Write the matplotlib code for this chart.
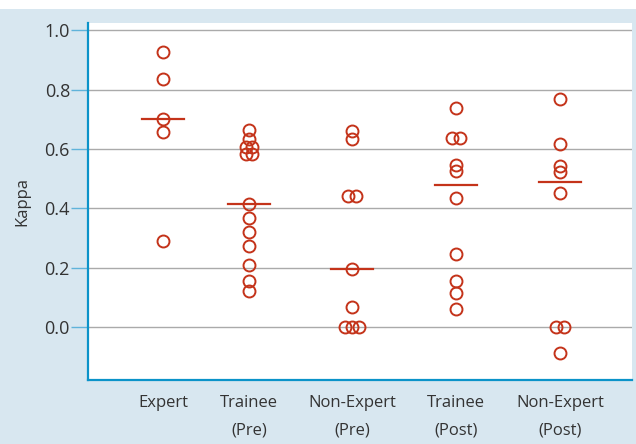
import matplotlib.pyplot as plt
from matplotlib.patches import Rectangle

plt.rcParams['font.family'] = ['Open Sans', 'DejaVu Sans']

# categories and their centre positions on the x axis
categories = ["Expert", "Trainee\n(Pre)", "Non-Expert\n(Pre)", "Trainee\n(Post)", "Non-Expert\n(Post)"]
positions = [0.75, 1.61, 2.64, 3.68, 4.72]

# kappa values
expert = [0.926, 0.835, 0.70, 0.657, 0.29]
trainee_pre = [0.663, 0.632, 0.605, 0.605, 0.582, 0.582, 0.414,
               0.367, 0.321, 0.272, 0.209, 0.156, 0.121]
nonexpert_pre = [0.66, 0.633, 0.441, 0.441, 0.196, 0.067, 0.0, 0.0, 0.0]
trainee_post = [0.737, 0.637, 0.637, 0.545, 0.526, 0.435,
                0.247, 0.155, 0.114, 0.061]
nonexpert_post = [0.769, 0.616, 0.543, 0.522, 0.452, 0.0, 0.0, -0.086]

# medians drawn as short horizontal bars
medians = [0.70, 0.414, 0.196, 0.48, 0.487]

groups = [expert, trainee_pre, nonexpert_pre, trainee_post, nonexpert_post]

red = '#c4331a'
blue = '#0b93c9'
bg = '#d8e7f0'


def spread(values, centre, step=0.07, tol=0.01):
    # put tied values side by side
    xs = []
    for i, v in enumerate(values):
        ties = [j for j, w in enumerate(values) if abs(w - v) <= tol]
        k = ties.index(i)
        n = len(ties)
        xs.append(centre + (k - (n - 1) / 2) * step)
    return xs


fig = plt.figure(figsize=(6.36, 4.44), dpi=100, facecolor='white')
fig.patches.append(Rectangle((0, 0), 1, 1 - 9 / 444, transform=fig.transFigure,
                             facecolor=bg, edgecolor='none', zorder=-1))
ax = fig.add_axes([88 / 636, 64 / 444, 544 / 636, 357 / 444])

for vals, pos, med in zip(groups, positions, medians):
    ax.plot(spread(vals, pos), vals, linestyle='none', marker='o', markersize=8.6,
            markerfacecolor='none', markeredgecolor=red, markeredgewidth=1.4, zorder=3)
    ax.plot([pos - 0.21, pos + 0.21], [med, med], color=red, linewidth=1.6, zorder=3)

ax.set_xlim(0, 5.44)
ax.set_ylim(-0.178, 1.024)
ax.set_yticks([0.0, 0.2, 0.4, 0.6, 0.8, 1.0])
ax.set_yticklabels(['0.0', '0.2', '0.4', '0.6', '0.8', '1.0'])
ax.set_xticks(positions)
ax.set_xticklabels(categories, linespacing=1.95)

ax.grid(axis='y', color='#aaaaaa', linewidth=1.0)
ax.set_axisbelow(True)

for side in ['top', 'right']:
    ax.spines[side].set_visible(False)
for side in ['left', 'bottom']:
    ax.spines[side].set_color(blue)
    ax.spines[side].set_linewidth(1.6)

ax.tick_params(axis='y', length=12, width=1, color='#5fb3da', labelsize=13,
               labelcolor='#333333', pad=1)
ax.tick_params(axis='x', length=0, labelsize=12, labelcolor='#333333', pad=11)

ax.set_ylabel('Kappa', fontsize=12, color='#333333', labelpad=10)

plt.savefig('out.png', dpi=100, facecolor=fig.get_facecolor())
